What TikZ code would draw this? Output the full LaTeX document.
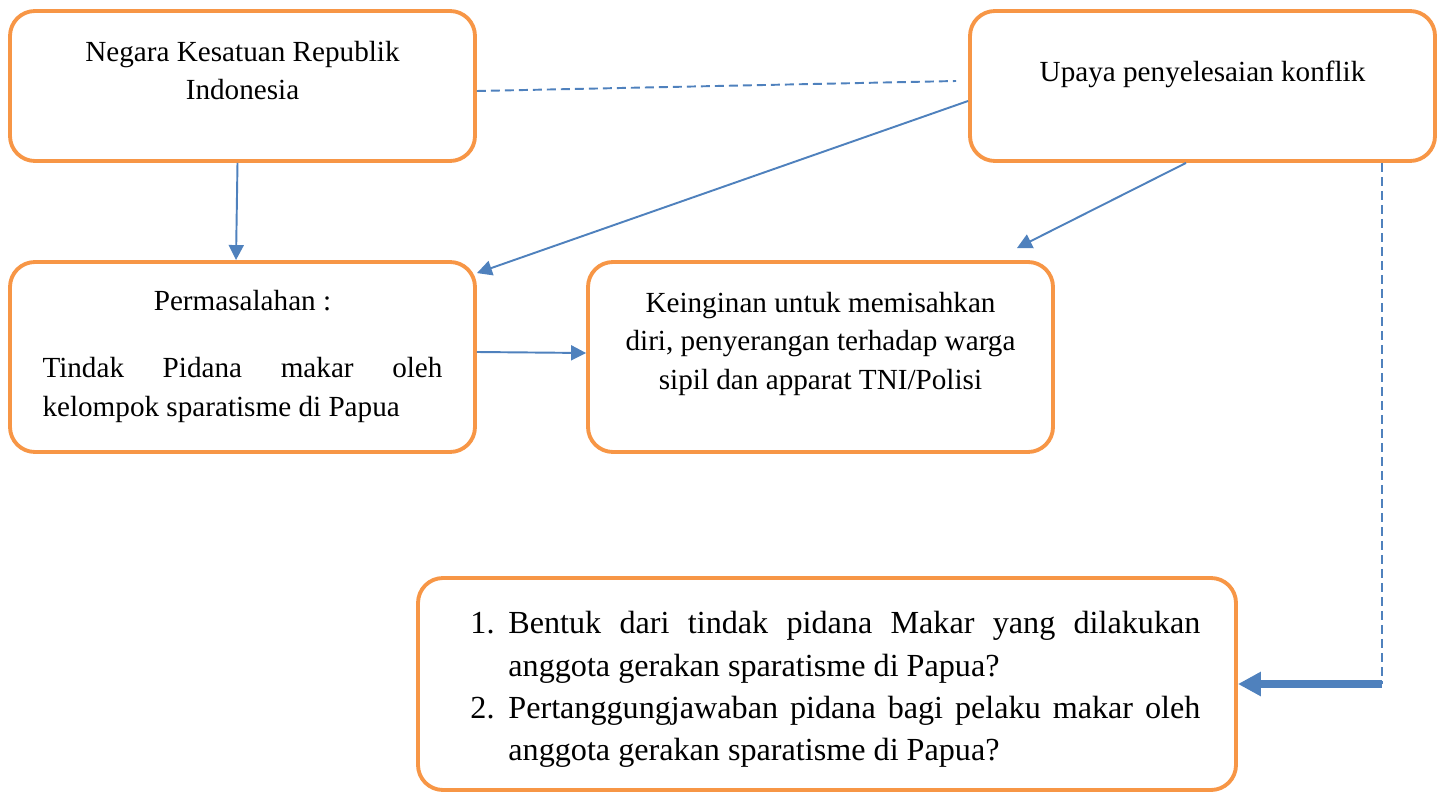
\documentclass[tikz,border=0pt]{standalone}
\usepackage{fontspec}
\setmainfont{Liberation Serif}
\usetikzlibrary{arrows.meta, positioning}
\definecolor{oranye}{HTML}{F79646}
\definecolor{biru}{HTML}{4F81BD}
\hyphenpenalty=10000
\exhyphenpenalty=10000
\tolerance=10000

\begin{document}
\begin{tikzpicture}[
    >={Triangle[length=3mm, width=3mm]},
    kotak/.style={draw=oranye, line width=2.2pt, rounded corners=5mm, minimum width=9.3cm, inner sep=0pt},
    teks/.style={inner sep=0pt, font=\fontsize{16.6}{21.8}\selectfont},
    panah/.style={->, draw=biru, line width=1.1pt},
    putus/.style={draw=biru, line width=1.1pt, dash pattern=on 1.8mm off 1mm}
]
\useasboundingbox (0,0) rectangle (28.84,-15.88);

% --- Kotak ---
\node[kotak, minimum height=3cm] (nkri) at (4.85,-1.72) {};
\node[kotak, minimum height=3cm] (upaya) at (24.05,-1.72) {};
\node[kotak, minimum height=3.8cm] (masalah) at (4.85,-7.14) {};
\node[kotak, minimum height=3.8cm] (keinginan) at (16.41,-7.14) {};
\node[kotak, minimum width=16.36cm, minimum height=4.24cm] (rumusan) at (16.54,-13.68) {};

% --- Isi kotak ---
\node[teks, anchor=north, align=center] (nkriTeks) at ([yshift=-0.64cm]nkri.north)
    {Negara Kesatuan Republik\\Indonesia};
\node[teks, anchor=north] (upayaTeks) at ([yshift=-1.04cm]upaya.north)
    {Upaya penyelesaian konflik};
\node[teks, anchor=north, text width=8cm, align=justify] (masalahTeks) at ([yshift=-0.6cm]masalah.north)
    {{\centering Permasalahan :\par}\vspace{0.58cm}
     Tindak Pidana makar oleh kelompok sparatisme di Papua};
\node[teks, anchor=north, align=center] (keinginanTeks) at ([yshift=-0.64cm]keinginan.north)
    {Keinginan untuk memisahkan\\diri, penyerangan terhadap warga\\sipil dan apparat TNI/Polisi};
\node[teks, anchor=north west, text width=14.6cm, align=justify, font=\fontsize{18.3}{24.1}\selectfont]
    (rumusanTeks) at ([xshift=1.08cm, yshift=-0.7cm]rumusan.north west)
    {\leftskip=0.76cm
     \noindent\llap{\makebox[0.76cm][l]{1.}}Bentuk dari tindak pidana Makar yang dilakukan anggota gerakan sparatisme di Papua?\par
     \noindent\llap{\makebox[0.76cm][l]{2.}}Pertanggungjawaban pidana bagi pelaku makar oleh anggota gerakan sparatisme di Papua?\par};

% --- Penghubung ---
\draw[putus] ([yshift=-0.1cm]nkri.east) -- ([xshift=-0.24cm, yshift=0.1cm]upaya.west);
\draw[panah] ([xshift=-0.1cm]nkri.south) -- ([xshift=-0.13cm]masalah.north);
\draw[panah] ([yshift=-0.3cm]upaya.west) -- ([yshift=-0.26cm]masalah.north east);
\draw[panah] ([xshift=-0.33cm]upaya.south) -- ([xshift=-0.76cm, yshift=0.24cm]keinginan.north east);
\draw[panah] ([yshift=0.1cm]masalah.east) -- ([yshift=0.08cm]keinginan.west);

% --- Garis putus ke rumusan masalah ---
\coordinate (atas) at ([xshift=-1.1cm]upaya.south east);
\coordinate (belok) at (atas |- rumusan.east);
\draw[putus] (atas) -- (belok);
\draw[draw=biru, line width=4.5pt, -{Triangle[length=4.6mm, width=4.6mm]}] (belok) -- (rumusan.east);

\end{tikzpicture}
\end{document}
